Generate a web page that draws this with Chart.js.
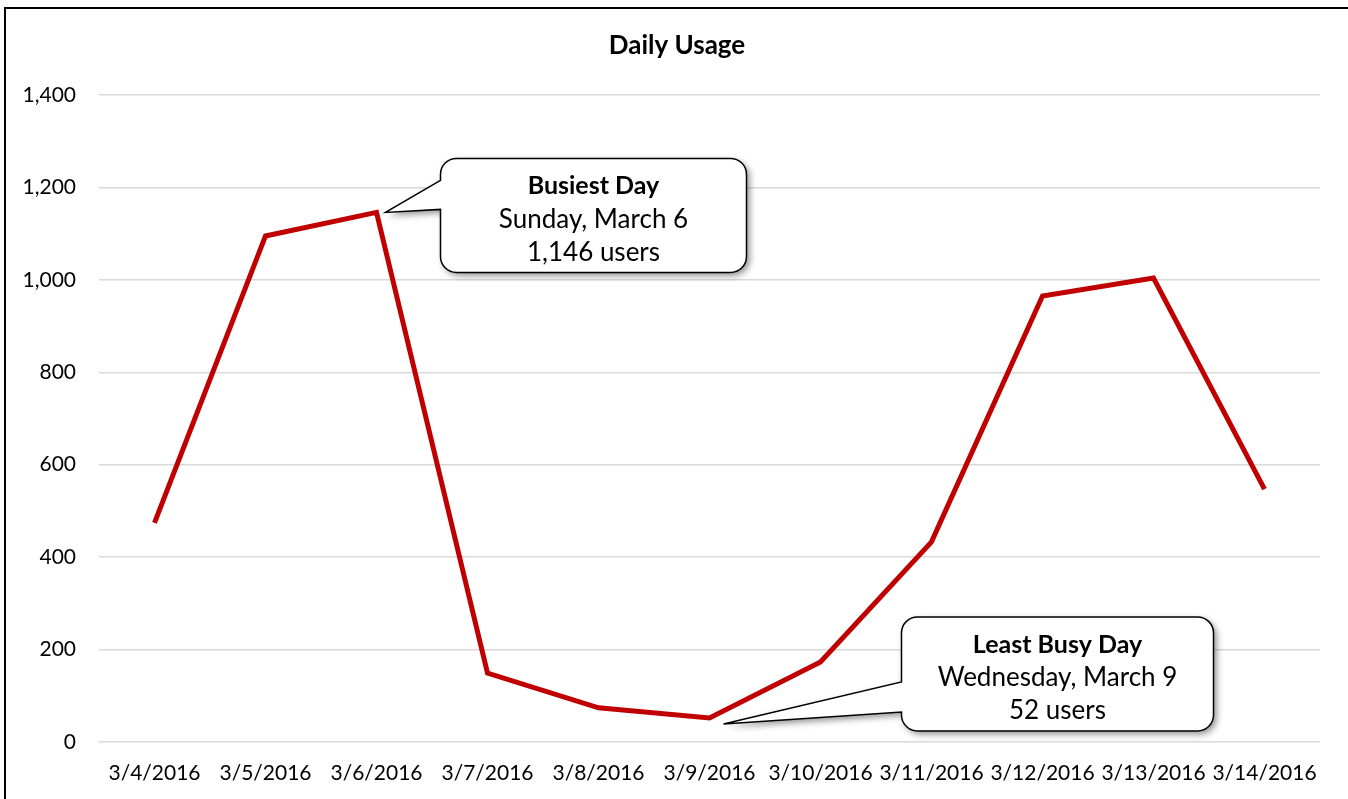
<!DOCTYPE html>
<html>
<head>
<meta charset="utf-8">
<script src="https://cdn.jsdelivr.net/npm/chart.js@4"></script>
<style>
  html, body { margin: 0; padding: 0; background: #fff; overflow: hidden; }
  #wrap { position: absolute; left: 0; top: 0; width: 1348px; height: 799px; }
</style>
</head>
<body>
<div id="wrap"><canvas id="myChart" width="1348" height="799"></canvas></div>
<script>
// chart values
var Days = ['3/4/2016', '3/5/2016', '3/6/2016', '3/7/2016', '3/8/2016', '3/9/2016',
            '3/10/2016', '3/11/2016', '3/12/2016', '3/13/2016', '3/14/2016'];
var Users = [474, 1095, 1146, 149, 74, 52, 173, 433, 965, 1004, 547];
var YTicks = [0, 200, 400, 600, 800, 1000, 1200, 1400];

var TitleText = 'Daily Usage';
// callout texts
var BusiestText = ['Busiest Day', 'Sunday, March 6', '1,146 users'];
var LeastText = ['Least Busy Day', 'Wednesday, March 9', '52 users'];

const FONT = 'Lato, "Open Sans", sans-serif';

// rounded box with a pointer coming out of the left edge
function drawCallout(ctx, tipX, tipY, bx, by, bw, bh, baseTop, baseBot, lines) {
    var r = 16;
    ctx.save();
    ctx.beginPath();
    ctx.moveTo(bx + r, by);
    ctx.lineTo(bx + bw - r, by);
    ctx.arcTo(bx + bw, by, bx + bw, by + r, r);
    ctx.lineTo(bx + bw, by + bh - r);
    ctx.arcTo(bx + bw, by + bh, bx + bw - r, by + bh, r);
    ctx.lineTo(bx + r, by + bh);
    ctx.arcTo(bx, by + bh, bx, by + bh - r, r);
    ctx.lineTo(bx, baseBot);
    ctx.lineTo(tipX, tipY);
    ctx.lineTo(bx, baseTop);
    ctx.lineTo(bx, by + r);
    ctx.arcTo(bx, by, bx + r, by, r);
    ctx.closePath();
    ctx.shadowColor = 'rgba(0,0,0,0.45)';
    ctx.shadowBlur = 7;
    ctx.shadowOffsetX = 3;
    ctx.shadowOffsetY = 3;
    ctx.fillStyle = '#ffffff';
    ctx.fill();
    ctx.shadowColor = 'transparent';
    ctx.lineWidth = 1.5;
    ctx.strokeStyle = '#000000';
    ctx.stroke();

    ctx.fillStyle = '#000000';
    ctx.textAlign = 'center';
    ctx.textBaseline = 'middle';
    var cx = bx + bw / 2;
    for (var i = 0; i < lines.length; i++) {
        ctx.font = (i === 0 ? 'bold 25px ' : '26px ') + FONT;
        ctx.fillText(lines[i], cx, by + 28 + i * 33);
    }
    ctx.restore();
}

// white background, frame edge and the title
const frame = {
    id: 'frame',
    beforeDraw(chart) {
        const ctx = chart.ctx;
        ctx.save();
        ctx.fillStyle = '#ffffff';
        ctx.fillRect(0, 0, chart.width, chart.height);
        ctx.strokeStyle = '#000000';
        ctx.lineWidth = 2;
        ctx.beginPath();
        ctx.moveTo(5, chart.height + 5);
        ctx.lineTo(5, 8);
        ctx.lineTo(chart.width + 5, 8);
        ctx.stroke();
        ctx.fillStyle = '#000000';
        ctx.font = 'bold 26px ' + FONT;
        ctx.textAlign = 'center';
        ctx.textBaseline = 'middle';
        ctx.fillText(TitleText, 677, 46);
        ctx.restore();
    }
};

const callouts = {
    id: 'callouts',
    afterDatasetsDraw(chart) {
        const ctx = chart.ctx;
        const x = chart.scales.x, y = chart.scales.y;
        // busiest day, 3/6
        var hi = Users.indexOf(Math.max.apply(null, Users));
        var px = x.getPixelForValue(hi), py = y.getPixelForValue(Users[hi]);
        drawCallout(ctx, px + 9, py, px + 64, py - 54, 306, 114, py - 32, py - 3, BusiestText);
        // least busy day, 3/9
        var lo = Users.indexOf(Math.min.apply(null, Users));
        px = x.getPixelForValue(lo); py = y.getPixelForValue(Users[lo]);
        drawCallout(ctx, px + 14, py + 6, px + 192, py - 101, 312, 114, py - 36, py - 6, LeastText);
    }
};

function initchart() {
    const data = {
        labels: Days,
        datasets: [
            {
                label: 'Users',
                data: Users,
                borderColor: '#C00000',
                backgroundColor: '#C00000',
                borderWidth: 5,
                pointRadius: 0,
                tension: 0,
                borderJoinStyle: 'miter'
            },
        ]
    };

    const config = {
        type: 'line',
        data: data,
        plugins: [frame, callouts],
        options: {
            responsive: false,
            animation: false,
            layout: {
                padding: { left: 0, right: 28, top: 95, bottom: 0 }
            },
            plugins: {
                legend: { display: false },
                tooltip: { enabled: false },
                title: { display: false }
            },
            scales: {
                x: {
                    offset: true,
                    grid: { display: false, drawTicks: false },
                    border: { display: false },
                    afterFit: function (axis) { axis.height = 57; },
                    ticks: {
                        color: '#000000',
                        font: { family: FONT, size: 21 },
                        padding: 19,
                        maxRotation: 0,
                        autoSkip: false
                    }
                },
                y: {
                    min: 0,
                    max: 1400,
                    afterBuildTicks: function (axis) {
                        axis.ticks = YTicks.map(function (v) { return { value: v }; });
                    },
                    afterFit: function (axis) { axis.width = 99; },
                    grid: { color: '#d9d9d9', lineWidth: 1.5, drawTicks: false },
                    border: { display: false },
                    ticks: {
                        color: '#000000',
                        font: { family: FONT, size: 21 },
                        padding: 23,
                        callback: function (v) { return v.toLocaleString('en-US'); }
                    }
                }
            }
        }
    };

    const myChart = new Chart(
        document.getElementById('myChart'),
        config
    );
}

initchart();
</script>
</body>
</html>
